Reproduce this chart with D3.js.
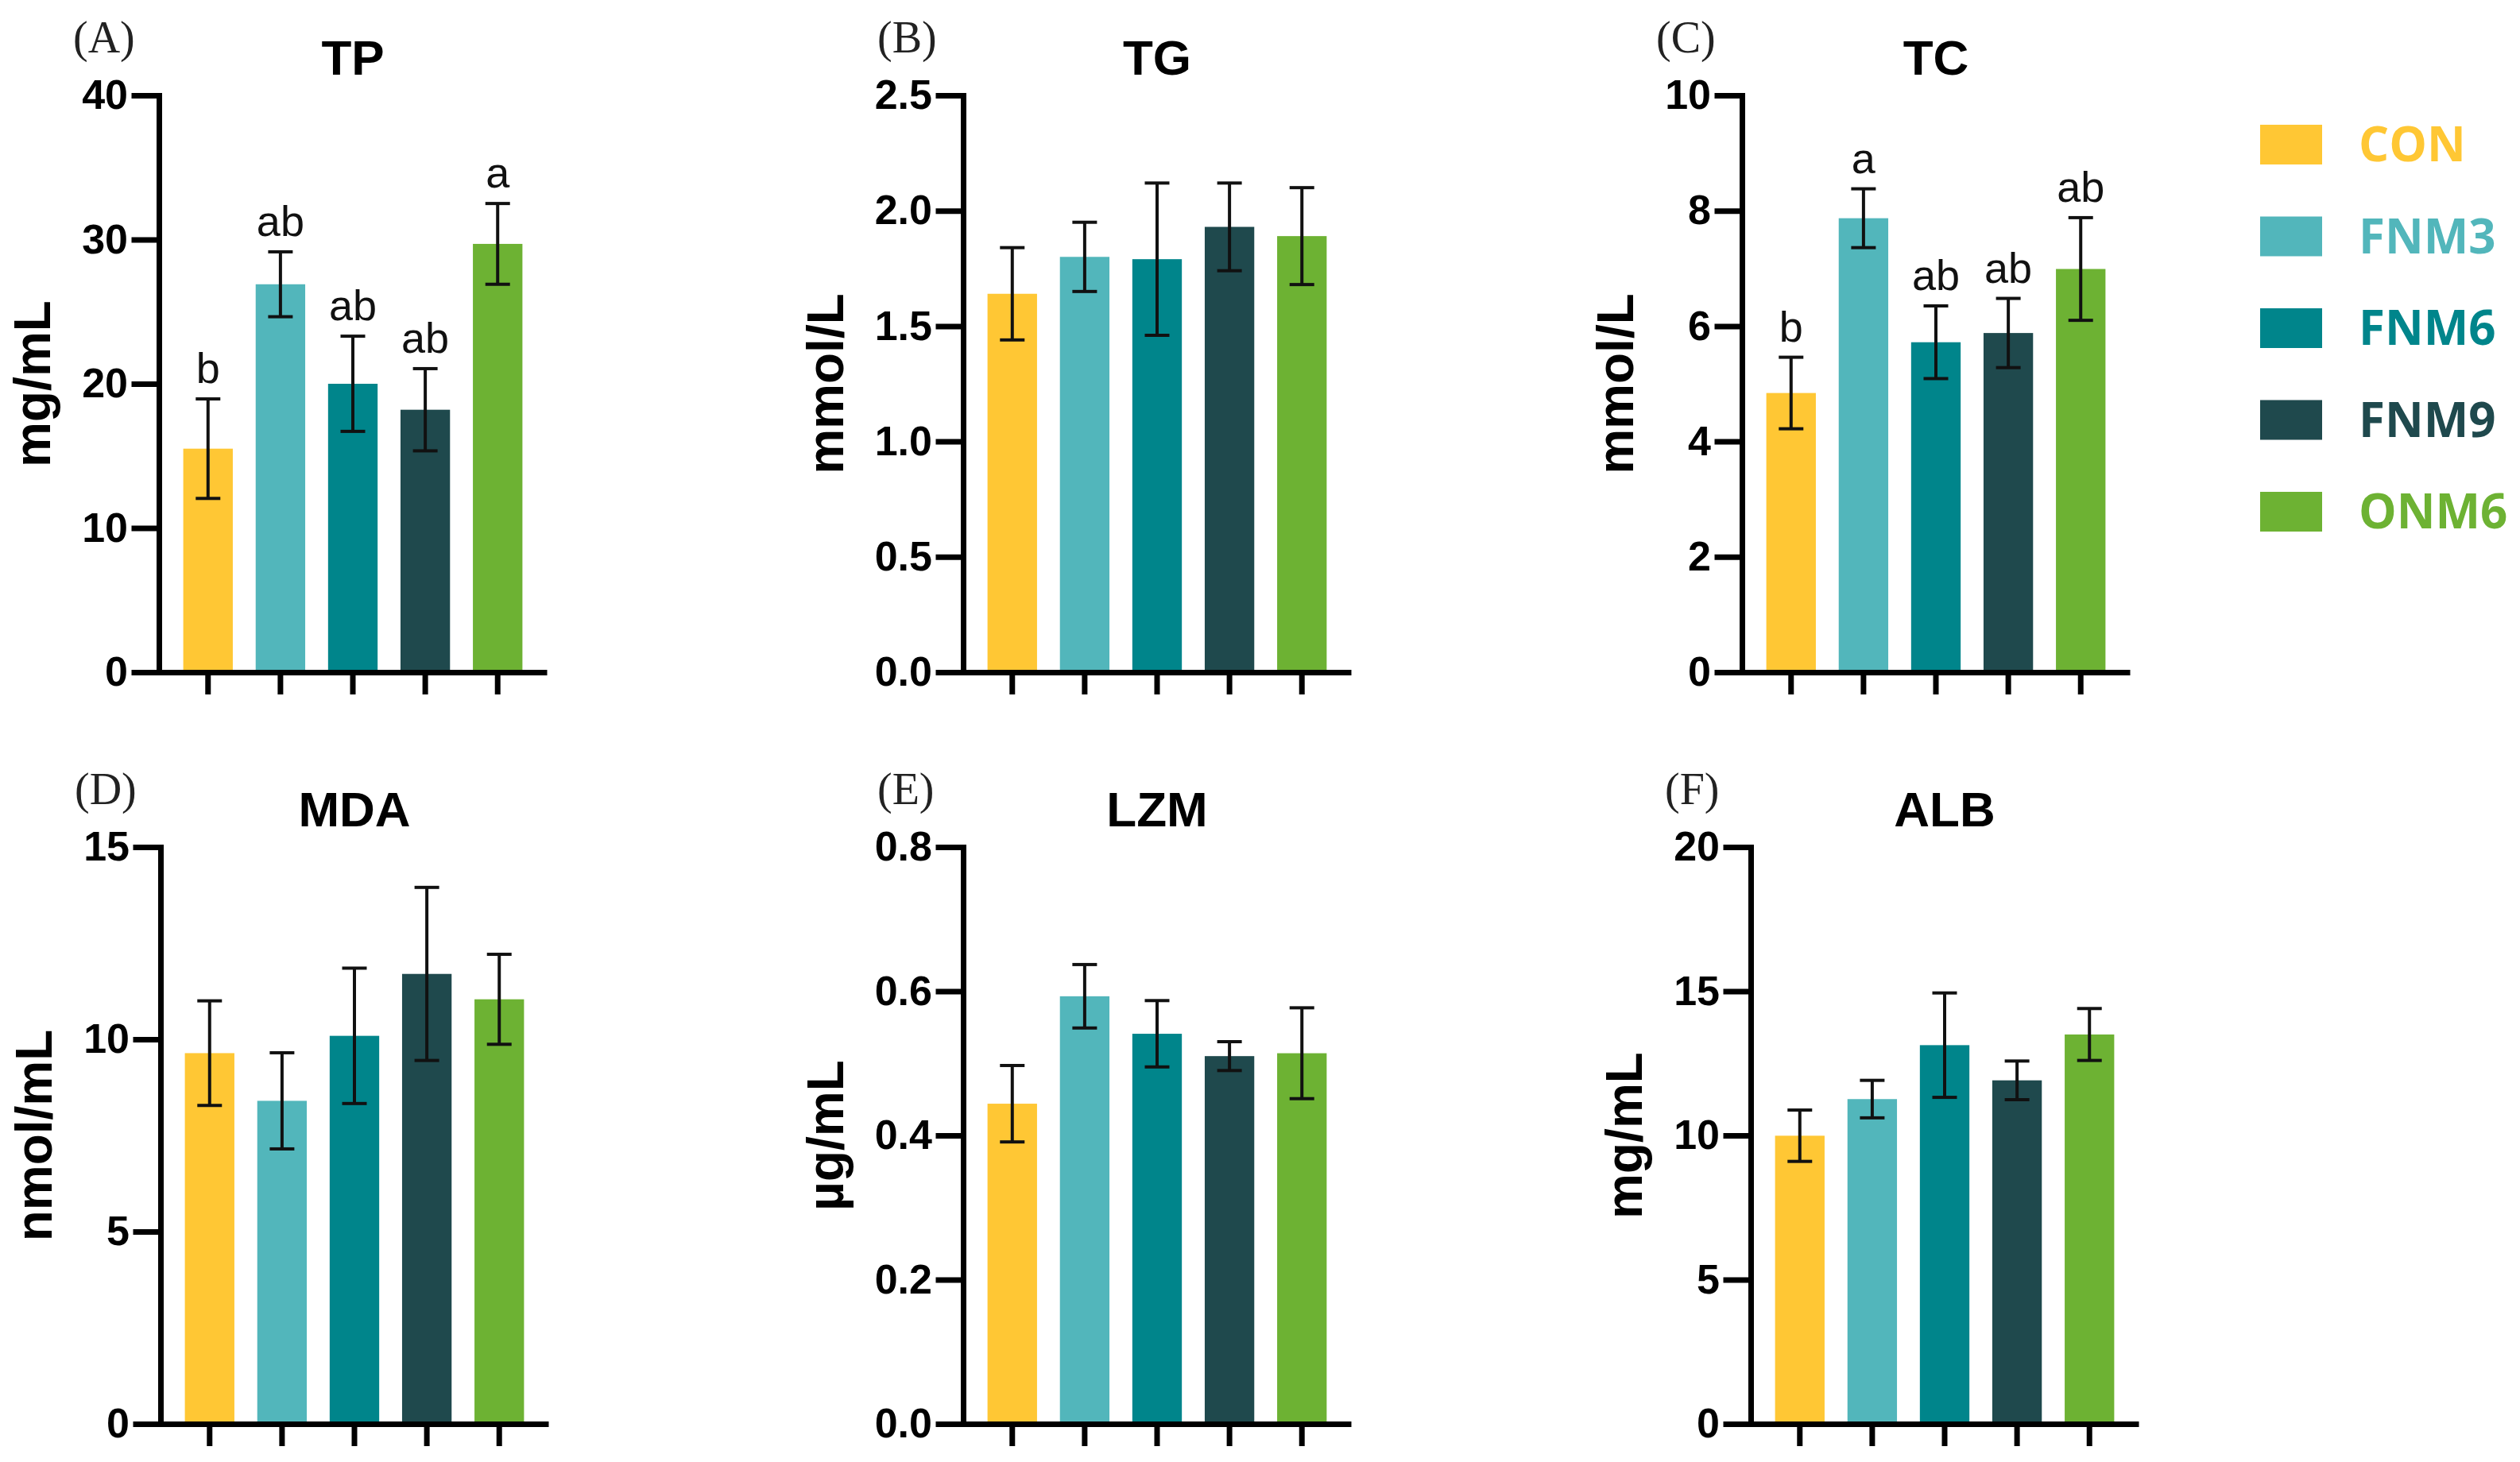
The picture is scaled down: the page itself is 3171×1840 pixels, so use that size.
<!DOCTYPE html>
<html>
<head>
<meta charset="utf-8">
<script src="https://cdn.jsdelivr.net/npm/d3@7/dist/d3.min.js"></script>
<style>
  body { margin: 0; background: #fff; }
  svg { display: block; }
  .tick text { font-family: "Liberation Sans", Arial, sans-serif; font-weight: bold; }
</style>
</head>
<body>
<svg id="chart" width="3171" height="1840"></svg>
<script>
// groups and colours
var groups = ["CON", "FNM3", "FNM6", "FNM9", "ONM6"];
var colors = ["#FFC734", "#52B6BB", "#00858B", "#1F494D", "#6DB233"];

// (A) TP
var tpMean = [15.5, 26.9, 20.0, 18.2, 29.7];
var tpSd = [3.45, 2.25, 3.3, 2.85, 2.8];
var tpLetters = ["b", "ab", "ab", "ab", "a"];
var tpTicks = [0, 10, 20, 30, 40];

// (B) TG
var tgMean = [1.64, 1.80, 1.79, 1.93, 1.89];
var tgSd = [0.20, 0.15, 0.33, 0.19, 0.21];
var tgTicks = [0, 0.5, 1.0, 1.5, 2.0, 2.5];

// (C) TC
var tcMean = [4.84, 7.87, 5.72, 5.88, 6.99];
var tcSd = [0.62, 0.51, 0.63, 0.60, 0.89];
var tcLetters = ["b", "a", "ab", "ab", "ab"];
var tcTicks = [0, 2, 4, 6, 8, 10];

// (D) MDA
var mdaMean = [9.64, 8.40, 10.09, 11.70, 11.04];
var mdaSd = [1.36, 1.25, 1.76, 2.25, 1.17];
var mdaTicks = [0, 5, 10, 15];

// (E) LZM
var lzmMean = [0.444, 0.593, 0.541, 0.510, 0.514];
var lzmSd = [0.053, 0.044, 0.046, 0.020, 0.063];
var lzmTicks = [0, 0.2, 0.4, 0.6, 0.8];

// (F) ALB
var albMean = [9.99, 11.26, 13.13, 11.91, 13.50];
var albSd = [0.89, 0.65, 1.81, 0.67, 0.90];
var albTicks = [0, 5, 10, 15, 20];

var panels = [
  { tag: "(A)", title: "TP", unit: "mg/mL", mean: tpMean, sd: tpSd, letters: tpLetters, ticks: tpTicks, fmt: d3.format("d") },
  { tag: "(B)", title: "TG", unit: "mmol/L", mean: tgMean, sd: tgSd, letters: null, ticks: tgTicks, fmt: d3.format(".1f") },
  { tag: "(C)", title: "TC", unit: "mmol/L", mean: tcMean, sd: tcSd, letters: tcLetters, ticks: tcTicks, fmt: d3.format("d") },
  { tag: "(D)", title: "MDA", unit: "nmol/mL", mean: mdaMean, sd: mdaSd, letters: null, ticks: mdaTicks, fmt: d3.format("d") },
  { tag: "(E)", title: "LZM", unit: "\u00b5g/mL", mean: lzmMean, sd: lzmSd, letters: null, ticks: lzmTicks, fmt: d3.format(".1f") },
  { tag: "(F)", title: "ALB", unit: "mg/mL", mean: albMean, sd: albSd, letters: null, ticks: albTicks, fmt: d3.format("d") }
];

// layout (pixel positions of each panel's axes)
var axisX = [200, 1212, 2192, 202, 1212, 2203];
var axisTop = [120, 120, 120, 1066, 1066, 1066];
var plotW = 488;
var plotH = 726;
var sans = "'Liberation Sans', Arial, sans-serif";

var svg = d3.select("#chart");

panels.forEach(function (p, k) {
  var g = svg.append("g")
    .attr("transform", "translate(" + axisX[k] + "," + axisTop[k] + ")");

  var x = d3.scaleBand().domain(groups).range([0, plotW])
    .paddingInner(0.316).paddingOuter(0.336);
  var y = d3.scaleLinear()
    .domain([0, d3.max(p.ticks)])
    .range([plotH, 0]);

  var rows = groups.map(function (name, i) {
    return { name: name, mean: p.mean[i], sd: p.sd[i], color: colors[i], letter: p.letters ? p.letters[i] : null };
  });

  // bars
  g.selectAll(".bar")
    .data(rows)
    .enter()
    .append("rect")
    .attr("x", function (d) { return x(d.name); })
    .attr("y", function (d) { return y(d.mean); })
    .attr("width", x.bandwidth())
    .attr("height", function (d) { return plotH - y(d.mean); })
    .attr("fill", function (d) { return d.color; });

  // error bars
  var capW = 31;
  var eb = g.selectAll(".err")
    .data(rows)
    .enter()
    .append("g")
    .attr("stroke", "#111")
    .attr("stroke-width", 4);
  eb.append("line")
    .attr("x1", function (d) { return x(d.name) + x.bandwidth() / 2; })
    .attr("x2", function (d) { return x(d.name) + x.bandwidth() / 2; })
    .attr("y1", function (d) { return y(d.mean - d.sd); })
    .attr("y2", function (d) { return y(d.mean + d.sd); });
  eb.selectAll(".cap")
    .data(function (d) { return [{ d: d, v: d.mean - d.sd }, { d: d, v: d.mean + d.sd }]; })
    .enter()
    .append("line")
    .attr("x1", function (c) { return x(c.d.name) + x.bandwidth() / 2 - capW / 2; })
    .attr("x2", function (c) { return x(c.d.name) + x.bandwidth() / 2 + capW / 2; })
    .attr("y1", function (c) { return y(c.v); })
    .attr("y2", function (c) { return y(c.v); });

  // significance letters
  if (p.letters) {
    g.selectAll(".sig")
      .data(rows)
      .enter()
      .append("text")
      .attr("x", function (d) { return x(d.name) + x.bandwidth() / 2; })
      .attr("y", function (d) { return y(d.mean + d.sd) - 20; })
      .attr("text-anchor", "middle")
      .style("font-family", sans)
      .style("font-size", "54px")
      .style("fill", "#111")
      .text(function (d) { return d.letter; });
  }

  // y axis
  var yAxis = g.append("g")
    .call(d3.axisLeft(y).tickValues(p.ticks).tickFormat(p.fmt).tickSize(31).tickSizeOuter(0).tickPadding(8));
  yAxis.selectAll("path, line").attr("stroke", "#000").attr("stroke-width", 7).attr("stroke-linecap", "square");
  yAxis.selectAll("text").style("font-size", "52px").attr("fill", "#000");

  // x axis (ticks only)
  var xAxis = g.append("g")
    .attr("transform", "translate(0," + plotH + ")")
    .call(d3.axisBottom(x).tickSize(28).tickSizeOuter(0).tickFormat(""));
  xAxis.selectAll("path, line").attr("stroke", "#000").attr("stroke-width", 7);

  // y label placed left of the tick labels
  var minLeft = d3.min(yAxis.selectAll("text").nodes(), function (n) { return n.getBBox().x; });
  g.append("text")
    .attr("transform", "translate(" + (minLeft - 40) + "," + (plotH / 2) + ") rotate(-90)")
    .attr("text-anchor", "middle")
    .style("font-family", sans)
    .style("font-weight", "bold")
    .style("font-size", "64px")
    .style("fill", "#000")
    .text(p.unit);

  // title
  g.append("text")
    .attr("x", plotW / 2)
    .attr("y", -26)
    .attr("text-anchor", "middle")
    .style("font-family", sans)
    .style("font-weight", "bold")
    .style("font-size", "62px")
    .style("fill", "#000")
    .text(p.title);

  // panel tag
  g.append("text")
    .attr("x", -108)
    .attr("y", -54)
    .style("font-family", "'Liberation Serif', 'Times New Roman', serif")
    .style("font-size", "56px")
    .style("fill", "#222")
    .text(p.tag);
});

// legend
var legend = svg.append("g").attr("transform", "translate(2844,157)");
var item = legend.selectAll(".item")
  .data(groups)
  .enter()
  .append("g")
  .attr("transform", function (d, i) { return "translate(0," + i * 115.5 + ")"; });
item.append("rect")
  .attr("width", 78)
  .attr("height", 50)
  .attr("fill", function (d, i) { return colors[i]; });
item.append("text")
  .attr("x", 124)
  .attr("y", 25)
  .attr("dy", "0.35em")
  .style("font-family", "'Open Sans', sans-serif")
  .style("font-weight", "bold")
  .style("font-size", "60px")
  .style("fill", function (d, i) { return colors[i]; })
  .text(function (d) { return d; });
</script>
</body>
</html>
